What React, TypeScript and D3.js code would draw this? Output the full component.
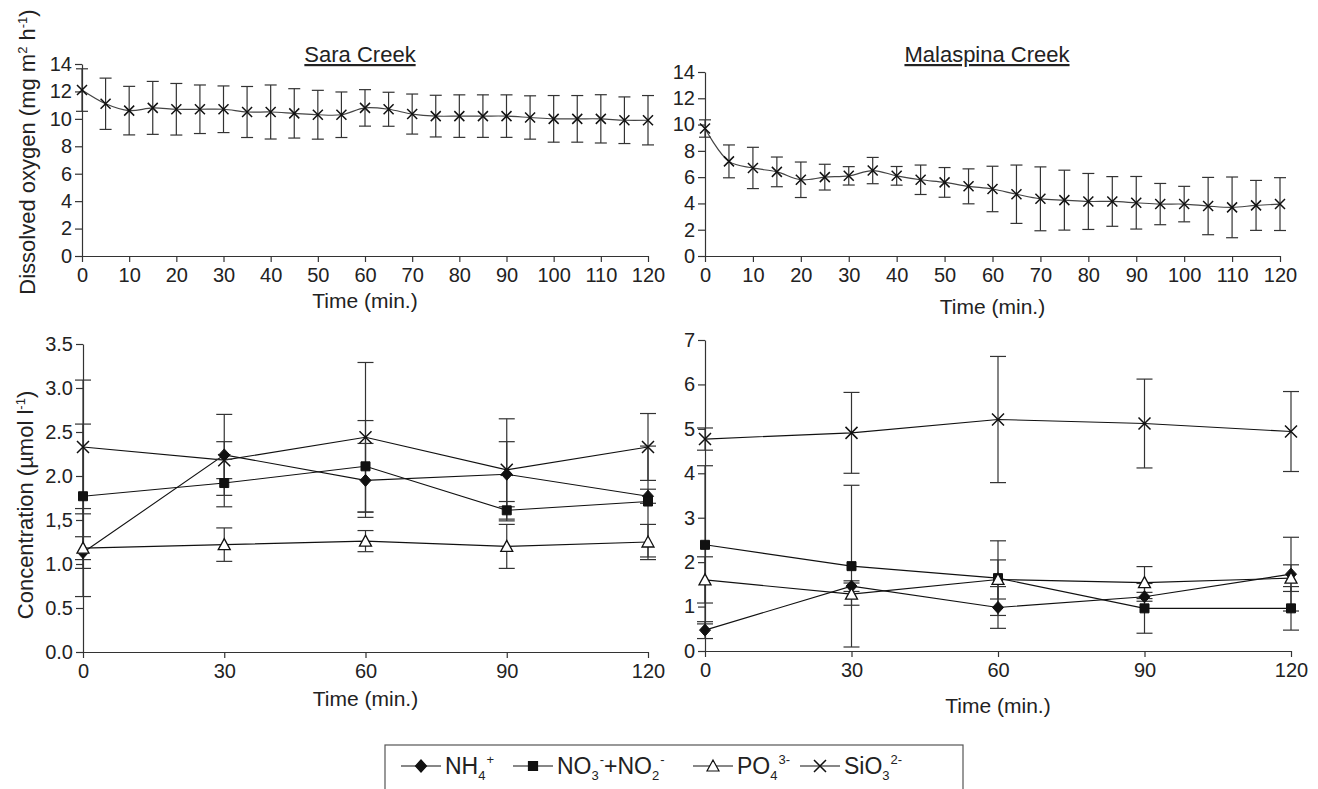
import React, { useRef, useEffect } from "react";
import * as d3 from "d3";

// dissolved oxygen, every 5 min
const doTime = [0, 5, 10, 15, 20, 25, 30, 35, 40, 45, 50, 55, 60, 65, 70, 75, 80, 85, 90, 95, 100, 105, 110, 115, 120];
const saraDO = [12.1, 11.1, 10.6, 10.8, 10.7, 10.7, 10.7, 10.5, 10.5, 10.4, 10.3, 10.3, 10.8, 10.7, 10.35, 10.2, 10.2, 10.2, 10.2, 10.1, 10.0, 10.0, 10.0, 9.9, 9.9];
const saraDOErr = [1.55, 1.87, 1.77, 1.93, 1.88, 1.77, 1.7, 1.86, 1.97, 1.8, 1.78, 1.66, 1.33, 1.24, 1.46, 1.52, 1.55, 1.55, 1.55, 1.58, 1.7, 1.7, 1.76, 1.7, 1.8];
const malaDO = [9.7, 7.2, 6.7, 6.4, 5.8, 6.0, 6.1, 6.5, 6.1, 5.8, 5.6, 5.3, 5.1, 4.7, 4.35, 4.25, 4.15, 4.15, 4.05, 3.95, 3.95, 3.8, 3.7, 3.85, 3.95];
const malaDOErr = [0.66, 1.25, 1.57, 1.13, 1.35, 0.98, 0.7, 1.0, 0.71, 1.12, 1.13, 1.33, 1.73, 2.22, 2.43, 2.28, 2.13, 1.89, 2.0, 1.57, 1.35, 2.18, 2.31, 1.9, 2.01];

// nutrients, every 30 min
const nutTime = [0, 30, 60, 90, 120];
const saraNH4 = [1.13, 2.24, 1.95, 2.02, 1.77];
const saraNH4Err = [0.5, 0.46, 0.42, 0.37, 0.08];
const saraNO3 = [1.77, 1.92, 2.11, 1.61, 1.71];
const saraNO3Err = [0.82, 0.27, 0.52, 0.1, 0.63];
const saraPO4 = [1.18, 1.22, 1.26, 1.2, 1.25];
const saraPO4Err = [0.13, 0.19, 0.12, 0.25, 0.2];
const saraSiO3 = [2.33, 2.18, 2.44, 2.07, 2.33];
const saraSiO3Err = [0.76, 0.21, 0.85, 0.58, 0.38];

const malaNH4 = [0.47, 1.46, 0.98, 1.22, 1.73];
const malaNH4Err = [0.19, 0.12, 0.47, 0.1, 0.83];
const malaNO3 = [2.39, 1.91, 1.64, 0.96, 0.96];
const malaNO3Err = [1.78, 1.82, 0.84, 0.56, 0.49];
const malaPO4 = [1.6, 1.28, 1.61, 1.54, 1.64];
const malaPO4Err = [0.52, 0.25, 0.44, 0.36, 0.3];
const malaSiO3 = [4.77, 4.91, 5.21, 5.12, 4.94];
const malaSiO3Err = [0.25, 0.91, 1.42, 1.0, 0.9];

const doYTicks = [0, 2, 4, 6, 8, 10, 12, 14];
const doXTicks = [0, 10, 20, 30, 40, 50, 60, 70, 80, 90, 100, 110, 120];
const saraConcTicks = [0, 0.5, 1, 1.5, 2, 2.5, 3, 3.5];
const saraConcLabels = ["0.0", "0.5", "1.0", "1,5", "2.0", "2.5", "3.0", "3.5"];
const malaConcTicks = [0, 1, 2, 3, 4, 5, 6, 7];
const nutXTicks = [0, 30, 60, 90, 120];

const FONT = "'Liberation Sans', Arial, Helvetica, sans-serif";

// marker paths centred on 0,0
const markerPath = {
  diamond: "M0,-6L5.5,0L0,6L-5.5,0Z",
  square: "M-4.5,-4.5H4.5V4.5H-4.5Z",
  triangle: "M0,-6L6,5H-6Z",
  cross: "M-6,-6L6,6M-6,6L6,-6",
  smallCross: "M-5,-5L5,5M-5,5L5,-5",
};

function drawAxes(g, x, y, xTicks, yTicks, yLabels) {
  const xa = g.append("g")
    .attr("transform", `translate(0,${y.range()[0]})`)
    .call(d3.axisBottom(x).tickValues(xTicks).tickSize(6).tickSizeOuter(0).tickPadding(6));
  const ya = g.append("g")
    .attr("transform", `translate(${x.range()[0]},0)`)
    .call(d3.axisLeft(y).tickValues(yTicks).tickSize(7).tickSizeOuter(0).tickPadding(3)
      .tickFormat((d, i) => (yLabels ? yLabels[i] : String(d))));
  [xa, ya].forEach((a) => {
    a.attr("font-size", 20).attr("font-family", FONT);
    a.selectAll("path, line").attr("stroke", "#333").attr("stroke-width", 1.2);
    a.selectAll("text").attr("fill", "#222");
  });
}

function drawErrors(g, x, y, xs, vals, errs, cap) {
  const eb = g.append("g").attr("stroke", "#333").attr("stroke-width", 1.2);
  xs.forEach((t, i) => {
    const cx = x(t);
    const hi = y(vals[i] + errs[i]);
    const lo = y(vals[i] - errs[i]);
    eb.append("line").attr("x1", cx).attr("x2", cx).attr("y1", hi).attr("y2", lo);
    eb.append("line").attr("x1", cx - cap).attr("x2", cx + cap).attr("y1", hi).attr("y2", hi);
    eb.append("line").attr("x1", cx - cap).attr("x2", cx + cap).attr("y1", lo).attr("y2", lo);
  });
}

function drawMarkers(g, x, y, xs, vals, kind) {
  g.append("g").selectAll("path")
    .data(vals)
    .join("path")
    .attr("transform", (d, i) => `translate(${x(xs[i])},${y(d)})`)
    .attr("d", markerPath[kind])
    .attr("fill", kind === "triangle" ? "#fff" : kind === "cross" || kind === "smallCross" ? "none" : "#111")
    .attr("stroke", "#111")
    .attr("stroke-width", kind === "triangle" ? 1.3 : kind === "cross" || kind === "smallCross" ? 1.5 : 1);
}

function App() {
  const svgRef = useRef(null);

  useEffect(() => {
    const svg = d3.select(svgRef.current);
    svg.selectAll("*").remove();

    // ---- top panels: dissolved oxygen
    const doPanels = [
      { x0: 82, x1: 648, y0: 256, y1: 64, vals: saraDO, errs: saraDOErr, xLabY: 308 },
      { x0: 705, x1: 1280, y0: 256, y1: 72, vals: malaDO, errs: malaDOErr, xLabY: 314 },
    ];
    doPanels.forEach((p) => {
      const g = svg.append("g");
      const x = d3.scaleLinear().domain([0, 120]).range([p.x0, p.x1]);
      const y = d3.scaleLinear().domain([0, 14]).range([p.y0, p.y1]);
      drawAxes(g, x, y, doXTicks, doYTicks, null);
      const line = d3.line().x((d, i) => x(doTime[i])).y((d) => y(d)).curve(d3.curveCatmullRom);
      g.append("path").attr("d", line(p.vals)).attr("fill", "none").attr("stroke", "#444").attr("stroke-width", 1.2);
      drawErrors(g, x, y, doTime, p.vals, p.errs, 6);
      drawMarkers(g, x, y, doTime, p.vals, "smallCross");
      g.append("text").attr("x", (p.x0 + p.x1) / 2).attr("y", p.xLabY)
        .attr("text-anchor", "middle").attr("font-size", 21).attr("font-family", FONT).attr("fill", "#222")
        .text("Time (min.)");
    });

    // ---- bottom panels: nutrients
    const nutPanels = [
      {
        x0: 83, x1: 648, y0: 652, y1: 344, max: 3.5, ticks: saraConcTicks, labels: saraConcLabels, xLabY: 706,
        series: [
          [saraNH4, saraNH4Err, "diamond"], [saraNO3, saraNO3Err, "square"],
          [saraPO4, saraPO4Err, "triangle"], [saraSiO3, saraSiO3Err, "cross"],
        ],
      },
      {
        x0: 705, x1: 1291, y0: 651, y1: 340, max: 7, ticks: malaConcTicks, labels: null, xLabY: 713,
        series: [
          [malaNH4, malaNH4Err, "diamond"], [malaNO3, malaNO3Err, "square"],
          [malaPO4, malaPO4Err, "triangle"], [malaSiO3, malaSiO3Err, "cross"],
        ],
      },
    ];
    nutPanels.forEach((p) => {
      const g = svg.append("g");
      const x = d3.scaleLinear().domain([0, 120]).range([p.x0, p.x1]);
      const y = d3.scaleLinear().domain([0, p.max]).range([p.y0, p.y1]);
      drawAxes(g, x, y, nutXTicks, p.ticks, p.labels);
      const line = d3.line().x((d, i) => x(nutTime[i])).y((d) => y(d));
      p.series.forEach(([vals]) => {
        g.append("path").attr("d", line(vals)).attr("fill", "none").attr("stroke", "#111").attr("stroke-width", 1.1);
      });
      p.series.forEach(([vals, errs]) => drawErrors(g, x, y, nutTime, vals, errs, 8));
      p.series.forEach(([vals, , kind]) => drawMarkers(g, x, y, nutTime, vals, kind));
      g.append("text").attr("x", (p.x0 + p.x1) / 2).attr("y", p.xLabY)
        .attr("text-anchor", "middle").attr("font-size", 21).attr("font-family", FONT).attr("fill", "#222")
        .text("Time (min.)");
    });

    // ---- titles
    [["Sara Creek", 360], ["Malaspina Creek", 987]].forEach(([t, cx]) => {
      svg.append("text").attr("x", cx).attr("y", 62).attr("text-anchor", "middle")
        .attr("font-size", 22).attr("font-family", FONT).attr("fill", "#222")
        .attr("text-decoration", "underline").text(t);
    });

    // ---- y titles
    const yt1 = svg.append("text").attr("transform", "translate(35,152) rotate(-90)")
      .attr("text-anchor", "middle").attr("font-size", 22).attr("font-family", FONT).attr("fill", "#222");
    yt1.append("tspan").text("Dissolved oxygen (mg m");
    yt1.append("tspan").attr("dy", -8).attr("font-size", 13).text("2");
    yt1.append("tspan").attr("dy", 8).text(" h");
    yt1.append("tspan").attr("dy", -8).attr("font-size", 13).text("-1");
    yt1.append("tspan").attr("dy", 8).text(")");

    const yt2 = svg.append("text").attr("transform", "translate(33,505) rotate(-90)")
      .attr("text-anchor", "middle").attr("font-size", 22).attr("font-family", FONT).attr("fill", "#222");
    yt2.append("tspan").text("Concentration (µmol l");
    yt2.append("tspan").attr("dy", -8).attr("font-size", 13).text("-1");
    yt2.append("tspan").attr("dy", 8).text(")");

    // ---- legend
    const lg = svg.append("g");
    lg.append("rect").attr("x", 385).attr("y", 745).attr("width", 578).attr("height", 70)
      .attr("fill", "none").attr("stroke", "#555").attr("stroke-width", 1.2);
    const items = [
      { kind: "diamond", cx: 421, tx: 445, parts: [["NH", 0], ["4", 1], ["+", 2]] },
      { kind: "square", cx: 533, tx: 557, parts: [["NO", 0], ["3", 1], ["-", 2], ["+NO", 0], ["2", 1], ["-", 2]] },
      { kind: "triangle", cx: 713, tx: 737, parts: [["PO", 0], ["4", 1], ["3-", 2]] },
      { kind: "cross", cx: 820, tx: 844, parts: [["SiO", 0], ["3", 1], ["2-", 2]] },
    ];
    const ly = 766;
    items.forEach((it) => {
      lg.append("line").attr("x1", it.cx - 20).attr("x2", it.cx + 20).attr("y1", ly).attr("y2", ly)
        .attr("stroke", "#111").attr("stroke-width", 1.1);
      lg.append("path").attr("transform", `translate(${it.cx},${ly})`).attr("d", markerPath[it.kind])
        .attr("fill", it.kind === "triangle" ? "#fff" : it.kind === "cross" ? "none" : "#111")
        .attr("stroke", "#111").attr("stroke-width", it.kind === "cross" ? 1.5 : 1.2);
      const t = lg.append("text").attr("x", it.tx).attr("y", ly + 8).attr("font-size", 23)
        .attr("font-family", FONT).attr("fill", "#222");
      let state = 0;
      it.parts.forEach(([s, kind]) => {
        const sp = t.append("tspan").text(s);
        if (kind === 1) {
          sp.attr("font-size", 13).attr("dy", state === 0 ? 6 : 0);
          state = 1;
        } else if (kind === 2) {
          sp.attr("font-size", 13).attr("dy", state === 1 ? -16 : -10).attr("dx", 1);
          state = 2;
        } else {
          sp.attr("dy", state === 1 ? -6 : state === 2 ? 10 : 0);
          state = 0;
        }
      });
    });
  }, []);

  return (
    <svg ref={svgRef} width={1318} height={789}
      style={{ position: "absolute", left: 0, top: 0, display: "block", background: "#fff" }} />
  );
}

export default App;
